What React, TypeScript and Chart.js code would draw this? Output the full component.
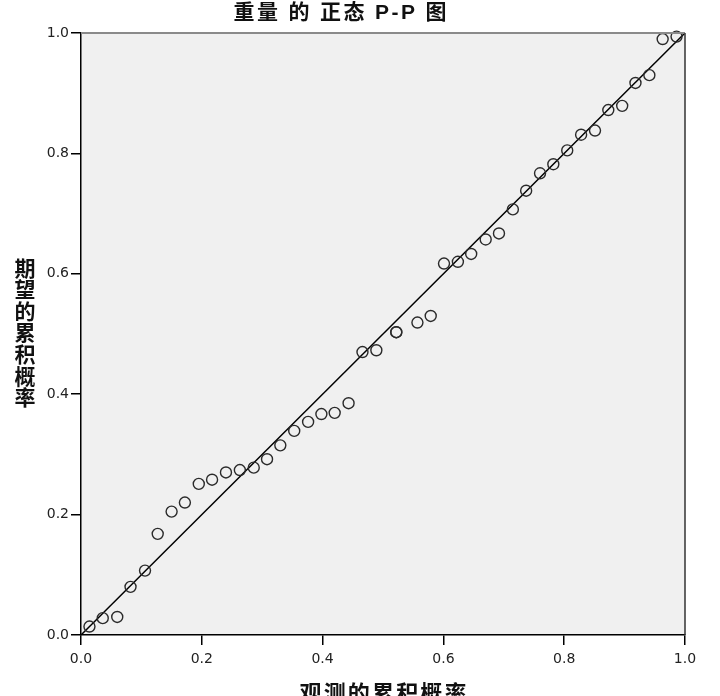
import { useEffect, useRef } from "react";
import { Chart, registerables } from "chart.js";

Chart.register(...registerables);

// observed cumulative probability (x) and expected cumulative probability (y), 44 cases
const observedProb = [
  0.014, 0.036, 0.06, 0.082, 0.106, 0.127, 0.15, 0.172, 0.195, 0.217, 0.24,
  0.263, 0.286, 0.308, 0.33, 0.353, 0.376, 0.398, 0.42, 0.443, 0.466, 0.489,
  0.522, 0.522, 0.557, 0.579, 0.601, 0.624, 0.646, 0.67, 0.692, 0.715, 0.737,
  0.76, 0.782, 0.805, 0.828, 0.851, 0.873, 0.896, 0.918, 0.941, 0.963, 0.986,
];
const expectedProb = [
  0.014, 0.028, 0.03, 0.08, 0.107, 0.168, 0.205, 0.22, 0.251, 0.258, 0.27,
  0.274, 0.278, 0.292, 0.315, 0.339, 0.354, 0.367, 0.369, 0.385, 0.47, 0.473,
  0.503, 0.503, 0.519, 0.53, 0.617, 0.62, 0.633, 0.657, 0.667, 0.707, 0.738,
  0.767, 0.782, 0.805, 0.831, 0.838, 0.872, 0.879, 0.917, 0.93, 0.99, 0.994,
];
const refLine = [0, 1];
const tickValues = [0, 0.2, 0.4, 0.6, 0.8, 1.0];

const chartTitle = "重量 的 正态 P-P 图";
const xAxisLabel = "观测的累积概率";
const yAxisLabel = "期望的累积概率";

const cjkFont = '"Noto Sans CJK SC", sans-serif';
const titleFont = '"Liberation Sans", "Noto Sans CJK SC", sans-serif';

// draw text centred on cx, stretched with letter spacing to a given width
function drawSpaced(ctx: CanvasRenderingContext2D, text: string, cx: number, cy: number, width: number) {
  (ctx as any).letterSpacing = "0px";
  const w0 = ctx.measureText(text).width;
  const n = Array.from(text).length;
  const ls = n > 1 ? (width - w0) / (n - 1) : 0;
  (ctx as any).letterSpacing = ls + "px";
  ctx.textAlign = "left";
  ctx.fillText(text, cx - width / 2, cy);
  (ctx as any).letterSpacing = "0px";
}

const ppFrame = {
  id: "ppFrame",
  beforeDraw(chart: Chart) {
    const { ctx, chartArea: a } = chart;
    ctx.save();
    ctx.fillStyle = "#f0f0f0";
    ctx.fillRect(a.left, a.top, a.right - a.left, a.bottom - a.top);
    ctx.restore();
  },
  afterDraw(chart: Chart) {
    const { ctx, chartArea: a } = chart;
    ctx.save();
    // top and right frame
    ctx.strokeStyle = "#8a8a8a";
    ctx.lineWidth = 2;
    ctx.beginPath();
    ctx.moveTo(a.left, a.top);
    ctx.lineTo(a.right, a.top);
    ctx.stroke();
    ctx.strokeStyle = "#333";
    ctx.lineWidth = 1.5;
    ctx.beginPath();
    ctx.moveTo(a.right, a.top);
    ctx.lineTo(a.right, a.bottom);
    ctx.stroke();

    ctx.fillStyle = "#111";
    ctx.textBaseline = "middle";
    ctx.font = `bold 21px ${titleFont}`;
    drawSpaced(ctx, chartTitle, 340, 13.5, 213);

    ctx.font = `bold 22px ${cjkFont}`;
    drawSpaced(ctx, xAxisLabel, (a.left + a.right) / 2, 693, 167);

    ctx.font = `bold 21px ${cjkFont}`;
    ctx.textAlign = "center";
    const chars = Array.from(yAxisLabel);
    const mid = (a.top + a.bottom) / 2 - 1.5;
    chars.forEach((c, i) => {
      ctx.fillText(c, 25, mid + (i - (chars.length - 1) / 2) * 21.6);
    });
    ctx.restore();
  },
};

export default function App() {
  const canvasRef = useRef<HTMLCanvasElement | null>(null);
  const chartRef = useRef<Chart | null>(null);

  useEffect(() => {
    const ctx = canvasRef.current?.getContext("2d");
    if (!ctx) return;
    chartRef.current?.destroy();

    const axisCommon = {
      type: "linear" as const,
      min: 0,
      max: 1,
      afterBuildTicks: (s: any) => {
        s.ticks = tickValues.map((v) => ({ value: v }));
      },
      grid: {
        drawOnChartArea: false,
        drawTicks: true,
        tickLength: 10,
        color: "#000",
        lineWidth: 1.5,
      },
      border: { display: true, color: "#000", width: 1.5 },
    };

    chartRef.current = new Chart(ctx, {
      type: "scatter",
      data: {
        datasets: [
          {
            data: observedProb.map((x, i) => ({ x, y: expectedProb[i] })),
            pointStyle: "circle",
            pointRadius: 5.5,
            borderColor: "#2a2a2a",
            borderWidth: 1.4,
            backgroundColor: "rgba(0,0,0,0)",
            clip: false,
            order: 1,
          },
          {
            data: refLine.map((v) => ({ x: v, y: v })),
            showLine: true,
            pointRadius: 0,
            borderColor: "#000",
            borderWidth: 1.5,
            order: 2,
          },
        ],
      },
      options: {
        responsive: true,
        maintainAspectRatio: false,
        animation: false,
        events: [],
        layout: { padding: { left: 0, top: 33, right: 35, bottom: 0 } },
        plugins: {
          legend: { display: false },
          tooltip: { enabled: false },
          title: { display: false },
        },
        scales: {
          x: {
            ...axisCommon,
            position: "bottom",
            afterFit: (s: any) => {
              s.height = 61;
            },
            ticks: {
              padding: 6,
              color: "#222",
              font: { family: "DejaVu Sans", size: 14 },
              maxRotation: 0,
              callback: (v: any) => Number(v).toFixed(1),
            },
          },
          y: {
            ...axisCommon,
            position: "left",
            afterFit: (s: any) => {
              s.width = 81;
            },
            ticks: {
              padding: 2,
              color: "#222",
              font: { family: "DejaVu Sans", size: 14 },
              callback: (v: any) => Number(v).toFixed(1),
            },
          },
        },
      },
      plugins: [ppFrame],
    });

    return () => {
      chartRef.current?.destroy();
      chartRef.current = null;
    };
  }, []);

  return (
    <div style={{ position: "absolute", left: 0, top: 0, width: 720, height: 696, background: "#fff" }}>
      <canvas ref={canvasRef} />
    </div>
  );
}
